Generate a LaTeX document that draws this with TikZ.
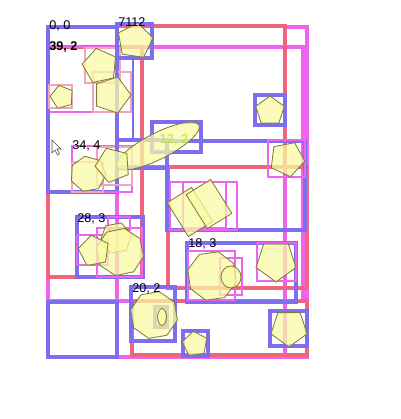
\documentclass[tikz,border=0pt]{standalone}
\usepackage{fontspec}
\setmainfont{Liberation Sans}
\usetikzlibrary{shapes.geometric}
\definecolor{boxblue}{RGB}{125,110,240}
\definecolor{boxred}{RGB}{240,100,125}
\definecolor{boxmag}{RGB}{238,100,238}
\definecolor{boxpink}{RGB}{245,165,185}
\definecolor{polyfill}{RGB}{250,250,165}
\definecolor{polyline}{RGB}{125,125,55}
\definecolor{tagyellow}{RGB}{175,230,60}

\begin{document}
\begin{tikzpicture}[x=0.025cm,y=-0.025cm,font=\fontsize{9}{10}\selectfont,
    bluebox/.style={draw=boxblue,line width=2.5pt},
    redbox/.style={draw=boxred,line width=2.5pt},
    magbox/.style={draw=boxmag,line width=2.5pt},
    thinmag/.style={draw=boxmag,line width=1.4pt},
    pinkbox/.style={draw=boxpink,line width=1pt},
    poly/.style={draw=polyline,fill=polyfill,fill opacity=0.75,line width=0.6pt,inner sep=0pt,outer sep=0pt},
    pgon/.style={poly,regular polygon,regular polygon sides=#1},
    tag/.style={anchor=base west,inner sep=0pt}]
      \useasboundingbox (0,0) rectangle (400,419);

      % big regions
      \draw[magbox] (117,47) rectangle (307,357);
      \draw[magbox] (285,27) rectangle (307,357);
      \draw[magbox] (48,47) rectangle (303,301);
      \draw[redbox] (117,26) rectangle (285,167);
      \draw[redbox] (48,47) rectangle (142,277);
      \draw[redbox] (168,167) rectangle (307,288);
      \draw[redbox] (132,301) rectangle (307,355);
      \draw[thinmag] (48,47) rectangle (118,112);
      \draw[bluebox] (48,27) rectangle (117,192);
      \draw[bluebox] (48,302) rectangle (117,357);

      % boxes round the shapes
      \draw[pinkbox] (85,48) rectangle (120,83);
      \draw[pinkbox] (93,72) rectangle (131,112);
      \draw[pinkbox] (49,85) rectangle (72,108);
      \draw[draw=boxblue,line width=1pt] (117,58) rectangle (133,141);
      \draw[bluebox] (117,24) rectangle (152,58);
      \draw[thinmag] (72,146) rectangle (132,192);
      \draw[pinkbox] (72,162) rectangle (103,192);
      \draw[pinkbox] (97,147) rectangle (132,185);
      \draw[bluebox] (117,140) rectangle (167,168);
      \draw[bluebox] (167,141) rectangle (305,230);
      \draw[bluebox] (152,122) rectangle (201,152);
      \draw[bluebox] (255,95) rectangle (285,125);
      \draw[thinmag] (268,140) rectangle (305,177);
      \draw[thinmag] (170,182) rectangle (237,230);
      \draw[thinmag] (183,182) rectangle (226,228);
      \draw[bluebox] (77,217) rectangle (143,277);
      \draw[thinmag] (77,235) rectangle (108,265);
      \draw[thinmag] (97,228) rectangle (142,277);
      \draw[thinmag] (108,217) rectangle (130,230);
      \draw[bluebox] (187,243) rectangle (296,302);
      \draw[thinmag] (188,251) rectangle (235,300);
      \draw[thinmag] (257,243) rectangle (296,281);
      \draw[thinmag] (220,258) rectangle (242,295);
      \draw[bluebox] (131,287) rectangle (175,341);
      \draw[bluebox] (155,307) rectangle (167,327);
      \draw[bluebox] (183,331) rectangle (208,356);
      \draw[bluebox] (270,311) rectangle (307,346);

      % shapes
      \node[pgon=5,minimum size=0.92cm,rotate=-8] (pa) at (135,41) {};
      \node[pgon=5,minimum size=0.9cm,rotate=12] (pb) at (100,66) {};
      \node[pgon=5,minimum size=0.95cm,rotate=-18] (pc) at (112,95) {};
      \node[pgon=5,minimum size=0.6cm,rotate=15] (pd) at (62,97) {};
      \node[poly,ellipse,minimum width=2.3cm,minimum height=0.65cm,rotate=27] (ea) at (158,146) {};
      \node[pgon=5,minimum size=0.75cm] (pe) at (270,111) {};
      \node[pgon=5,minimum size=0.9cm,rotate=-25] (pf) at (287,159) {};
      \node[pgon=7,minimum size=0.9cm,rotate=10] (pg) at (88,174) {};
      \node[pgon=5,minimum size=0.9cm,rotate=22] (ph) at (113,165) {};
      \node[poly,rectangle,minimum width=0.72cm,minimum height=1cm,rotate=32] (ra) at (190,212) {};
      \node[poly,rectangle,minimum width=0.72cm,minimum height=1cm,rotate=32] (rb) at (209,204) {};
      \node[pgon=6,minimum size=0.8cm,rotate=10] (pi) at (116,238) {};
      \node[pgon=8,minimum size=1.2cm,rotate=12] (pj) at (120,252) {};
      \node[pgon=5,minimum size=0.8cm,rotate=10] (pk) at (94,251) {};
      \node[pgon=8,minimum size=1.25cm,rotate=8] (pl) at (212,276) {};
      \node[poly,ellipse,minimum width=0.5cm,minimum height=0.55cm] (eb) at (231,277) {};
      \node[pgon=5,minimum size=1.05cm,rotate=180] (pm) at (276,261) {};
      \node[pgon=8,minimum size=1.2cm,rotate=10] (pn) at (154,315) {};
      \node[poly,ellipse,minimum width=0.22cm,minimum height=0.42cm] (ec) at (162,317) {};
      \node[pgon=5,minimum size=0.65cm,rotate=8] (po) at (195,344) {};
      \node[pgon=5,minimum size=0.95cm,rotate=180] (pp) at (289,328) {};

      % pointer
      \draw[fill=white,draw=black!70,line width=0.4pt] (52,140) -- (52,153) -- (55,150)
        -- (57.5,155) -- (59.5,154) -- (57,149) -- (61,149) -- cycle;

      % labels
      \node[tag] (t00) at (49,30) {0, 0};
      \node[tag] (t7112) at (118,27) {7112};
      \node[tag,font=\fontsize{9}{10}\selectfont\bfseries] (t392) at (49,51) {39, 2};
      \node[tag] (t344) at (72,150) {34, 4};
      \node[tag] (t283) at (77,222) {28, 3};
      \node[tag] (t183) at (188,247) {18, 3};
      \node[tag] (t202) at (132,292) {20, 2};
      \node[tagyellow] (t122) at (174,140) {12, 2};
    \end{tikzpicture}
\end{document}
